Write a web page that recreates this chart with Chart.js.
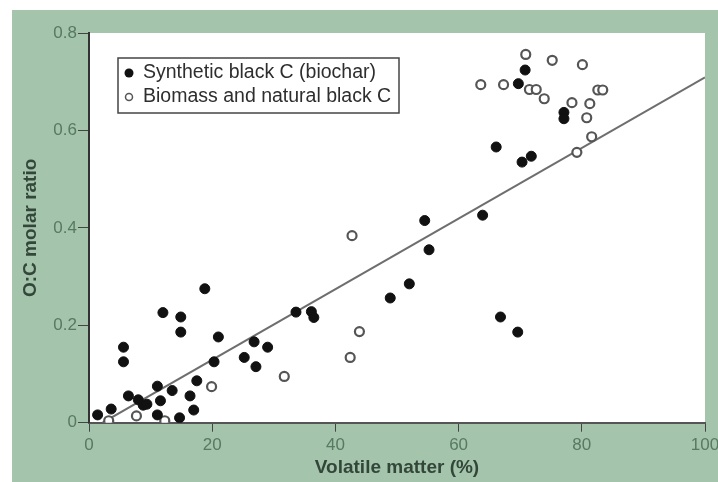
<!DOCTYPE html>
<html>
<head>
<meta charset="utf-8">
<script src="https://cdn.jsdelivr.net/npm/chart.js@4/dist/chart.umd.min.js"></script>
<style>
    body { margin: 0; background: #fff; }
    canvas { display: block; }
</style>
</head>
<body>
<canvas id="ocChart" width="718" height="482"></canvas>
<script>
// Synthetic black C (biochar), filled dots
const synthX = [1.4, 3.6, 5.6, 5.6, 6.4, 8.0, 8.8, 9.4, 11.1, 11.6, 11.1, 12.0, 13.5, 14.7, 14.9, 14.9,
    16.4, 17.0, 17.5, 18.8, 20.3, 21.0, 25.2, 26.8, 27.1, 29.0, 33.6, 36.1, 36.5, 48.9, 52.0, 54.5,
    55.2, 63.9, 66.1, 66.8, 69.6, 70.3, 71.8, 69.7, 70.8, 77.1, 77.1];
const synthY = [0.016, 0.028, 0.155, 0.125, 0.055, 0.047, 0.036, 0.038, 0.075, 0.045, 0.016, 0.226, 0.066, 0.010, 0.217, 0.186,
    0.055, 0.026, 0.086, 0.275, 0.125, 0.176, 0.134, 0.166, 0.115, 0.155, 0.227, 0.228, 0.216, 0.256, 0.285, 0.415,
    0.355, 0.426, 0.566, 0.217, 0.186, 0.535, 0.547, 0.696, 0.724, 0.637, 0.624];

// Biomass and natural black C, open circles
const naturalX = [3.2, 7.7, 12.3, 19.9, 31.7, 42.4, 43.9, 42.7, 63.6, 67.3, 70.9, 71.5, 72.6, 73.9,
    75.2, 78.4, 79.2, 80.1, 80.8, 81.3, 81.6, 82.6, 83.4];
const naturalY = [0.004, 0.014, 0.004, 0.074, 0.095, 0.134, 0.187, 0.384, 0.694, 0.694, 0.756, 0.684, 0.684, 0.665,
    0.744, 0.657, 0.555, 0.735, 0.626, 0.655, 0.587, 0.683, 0.683];

// regression line end points
const fitX = [2.2, 100];
const fitY = [0, 0.709];

const xTicks = [0, 20, 40, 60, 80, 100];
const yTicks = [0, 0.2, 0.4, 0.6, 0.8];

const GREEN = '#a4c4ac';
const TICK_TEXT = '#587a60';
const TITLE_TEXT = '#33463a';
const FONT = "'Liberation Sans', Arial, sans-serif";

function pairs(xs, ys) {
    return xs.map((x, i) => ({ x: x, y: ys[i] }));
}

// green frame + white plotting area
const backdrop = {
    id: 'backdrop',
    beforeDraw(chart) {
        const ctx = chart.ctx;
        const a = chart.chartArea;
        ctx.save();
        ctx.fillStyle = '#fff';
        ctx.fillRect(0, 0, chart.width, chart.height);
        ctx.fillStyle = GREEN;
        ctx.fillRect(12, 10, chart.width - 12, chart.height - 10);
        ctx.fillStyle = '#fff';
        ctx.fillRect(a.left, a.top, a.right - a.left, a.bottom - a.top);
        ctx.restore();
    }
};

// boxed legend inside the plot
const boxLegend = {
    id: 'boxLegend',
    afterDraw(chart) {
        const ctx = chart.ctx;
        const sets = chart.data.datasets;
        ctx.save();
        ctx.fillStyle = '#fff';
        ctx.fillRect(118, 58, 281, 55);
        ctx.strokeStyle = '#444';
        ctx.lineWidth = 1.5;
        ctx.strokeRect(118, 58, 281, 55);
        ctx.font = '19.5px ' + FONT;
        ctx.textBaseline = 'middle';
        ctx.fillStyle = '#2e2e2e';
        ctx.fillText(sets[0].label, 143, 73);
        ctx.fillText(sets[1].label, 143, 97);
        ctx.beginPath();
        ctx.arc(129, 73, 4.5, 0, Math.PI * 2);
        ctx.fillStyle = '#111';
        ctx.fill();
        ctx.beginPath();
        ctx.arc(129, 97, 3.5, 0, Math.PI * 2);
        ctx.strokeStyle = '#555';
        ctx.lineWidth = 1.5;
        ctx.stroke();
        ctx.restore();
    }
};

new Chart(document.getElementById('ocChart'), {
    type: 'scatter',
    data: {
        datasets: [{
            label: 'Synthetic black C (biochar)',
            data: pairs(synthX, synthY),
            backgroundColor: '#111',
            borderColor: '#111',
            borderWidth: 1,
            pointRadius: 5
        }, {
            label: 'Biomass and natural black C',
            data: pairs(naturalX, naturalY),
            backgroundColor: '#fff',
            borderColor: '#555',
            borderWidth: 2.2,
            pointRadius: 4.5
        }, {
            label: 'fit',
            data: pairs(fitX, fitY),
            showLine: true,
            borderColor: '#6e6e6e',
            borderWidth: 2,
            pointRadius: 0
        }]
    },
    options: {
        responsive: false,
        animation: false,
        layout: { padding: { top: 33, right: 13, bottom: 0, left: 0 } },
        plugins: {
            legend: { display: false },
            tooltip: { enabled: false }
        },
        scales: {
            x: {
                type: 'linear',
                min: 0,
                max: 100,
                afterBuildTicks: s => { s.ticks = xTicks.map(v => ({ value: v })); },
                afterFit: s => { s.height = 59.3; s.paddingRight = 0; s.paddingLeft = 0; },
                ticks: { color: TICK_TEXT, font: { family: FONT, size: 17 }, padding: 3 },
                grid: { drawOnChartArea: false, tickLength: 9, color: '#444' },
                border: { color: '#555', width: 2 },
                title: {
                    display: true,
                    text: 'Volatile matter (%)',
                    color: TITLE_TEXT,
                    font: { family: FONT, size: 19, weight: 'bold' },
                    padding: { top: 0, bottom: 3 }
                }
            },
            y: {
                min: 0,
                max: 0.8,
                afterBuildTicks: s => { s.ticks = yTicks.map(v => ({ value: v })); },
                afterFit: s => { s.width = 89; },
                ticks: { color: TICK_TEXT, font: { family: FONT, size: 17 }, padding: 1 },
                grid: { drawOnChartArea: false, tickLength: 11, color: '#444' },
                border: { color: '#333', width: 2 },
                title: {
                    display: true,
                    text: 'O:C molar ratio',
                    color: TITLE_TEXT,
                    font: { family: FONT, size: 19, weight: 'bold' },
                    padding: { top: 19, bottom: 0 }
                }
            }
        }
    },
    plugins: [backdrop, boxLegend]
});
</script>
</body>
</html>
